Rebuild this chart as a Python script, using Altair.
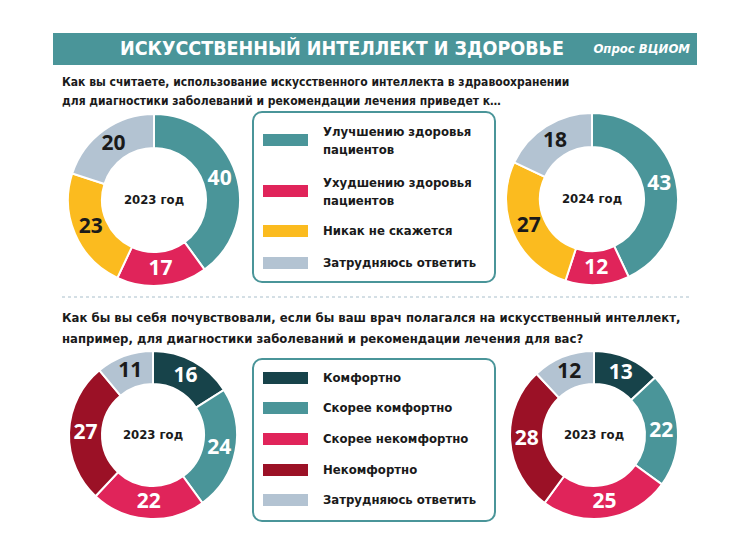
import altair as alt
import pandas as pd

# ---------------- data ----------------
title = "ИСКУССТВЕННЫЙ ИНТЕЛЛЕКТ И ЗДОРОВЬЕ"
source = "Опрос ВЦИОМ"
q1_lines = ["Как вы считаете, использование искусственного интеллекта в здравоохранении",
            "для диагностики заболеваний и рекомендации лечения приведет к…"]
q2_lines = ["Как бы вы себя почувствовали, если бы ваш врач полагался на искусственный интеллект,",
            "например, для диагностики заболеваний и рекомендации лечения для вас?"]

cats1 = ["Улучшению здоровья пациентов", "Ухудшению здоровья пациентов",
         "Никак не скажется", "Затрудняюсь ответить"]
legend1_labels = ["Улучшению здоровья\nпациентов", "Ухудшению здоровья\nпациентов",
                  "Никак не скажется", "Затрудняюсь ответить"]
vals_2023_a = [40, 17, 23, 20]
vals_2024_a = [43, 12, 27, 18]

cats2 = ["Комфортно", "Скорее комфортно", "Скорее некомфортно", "Некомфортно", "Затрудняюсь ответить"]
vals_2023_b = [16, 24, 22, 27, 11]
vals_2024_b = [13, 22, 25, 28, 12]

year_labels = ["2023 год", "2024 год", "2023 год", "2023 год"]

# ---------------- styles ----------------
FONT = "DejaVu Sans Condensed, sans-serif"
NUMFONT = "Open Sans, Liberation Sans, sans-serif"
TEAL = "#4a9599"
DARK = "#1a1a1a"
all_cats = ["Улучшению здоровья пациентов", "Ухудшению здоровья пациентов", "Никак не скажется",
            "Затрудняюсь ответить", "Комфортно", "Скорее комфортно", "Скорее некомфортно", "Некомфортно"]
all_colors = [TEAL, "#e0245a", "#fbbb1f", "#b3c3d2", "#17434a", TEAL, "#e0245a", "#9b1126"]
color_scale = alt.Scale(domain=all_cats, range=all_colors)
dark_label_cats = ["Никак не скажется", "Затрудняюсь ответить"]


def df_of(cats, vals):
    return pd.DataFrame({"cat": cats, "value": vals, "idx": list(range(len(cats)))})


def text_layer(txt, x, y, size=14, color=DARK, align="left", weight="bold", style="normal", font=FONT,
               line_height=None):
    kw = {}
    if line_height:
        kw["lineHeight"] = line_height
    return alt.Chart(pd.DataFrame({"t": [txt]})).mark_text(
        font=font, fontSize=size, fontWeight=weight, fontStyle=style, color=color,
        align=align, baseline="middle", lineBreak="\n", **kw
    ).encode(text="t:N", x=alt.value(x), y=alt.value(y))


def rect_layer(x, x2, y, y2, fill, stroke=None, sw=0, corner=0):
    kw = {}
    if stroke:
        kw["stroke"] = stroke
        kw["strokeWidth"] = sw
    return alt.Chart(pd.DataFrame({"a": [0]})).mark_rect(
        fill=fill, cornerRadius=corner, **kw
    ).encode(x=alt.value(x), x2=alt.value(x2), y=alt.value(y), y2=alt.value(y2))


def donut(cats, vals, cx, cy, r_in, r_out, center_label):
    d = df_of(cats, vals)
    theta = alt.Theta("value:Q", stack=True, scale=alt.Scale(domain=[0, 100]))
    arc = alt.Chart(d).mark_arc(innerRadius=r_in, outerRadius=r_out, stroke="white", strokeWidth=2).encode(
        theta=theta,
        color=alt.Color("cat:N", scale=color_scale, legend=None),
        order=alt.Order("idx:Q"),
        x=alt.value(cx), y=alt.value(cy),
    )
    lab = alt.Chart(d).mark_text(radius=(r_in + r_out) / 2, font=NUMFONT, fontSize=21, fontWeight="bold",
                                 baseline="middle", align="center").encode(
        theta=theta,
        order=alt.Order("idx:Q"),
        text="value:Q",
        color=alt.condition(alt.FieldOneOfPredicate(field="cat", oneOf=dark_label_cats),
                            alt.value(DARK), alt.value("white")),
        x=alt.value(cx), y=alt.value(cy),
    )
    ctr = text_layer(center_label, cx, cy, size=13, align="center")
    return [arc, lab, ctr]


layers = []
# banner
layers.append(rect_layer(45, 689, 25, 57, TEAL))
layers.append(text_layer(title, 334, 41, size=19.5, color="white", align="center"))
layers.append(text_layer(source, 682, 41, size=13, color="white", align="right", style="italic"))

# question 1
layers.append(text_layer(q1_lines[0], 54, 74, size=12))
layers.append(text_layer(q1_lines[1], 54, 93, size=12))

# legend 1
layers.append(rect_layer(245, 487, 104, 274, "white", stroke=TEAL, sw=2, corner=9))
leg1_y = [132, 183, 223, 255]
for cat, lab, yy in zip(cats1, legend1_labels, leg1_y):
    col = all_colors[all_cats.index(cat)]
    layers.append(rect_layer(255, 300, yy - 6, yy + 6, col))
    layers.append(text_layer(lab, 315, yy - (8 if "\n" in lab else 0), size=13, line_height=18))

# separator
layers.append(alt.Chart(pd.DataFrame({"a": [0]})).mark_rule(color="#a9c0cc", strokeDash=[3, 3], strokeWidth=1.2)
              .encode(x=alt.value(54), x2=alt.value(682), y=alt.value(289)))

# question 2
layers.append(text_layer(q2_lines[0], 54, 310, size=13))
layers.append(text_layer(q2_lines[1], 54, 331, size=13))

# legend 2
layers.append(rect_layer(245, 487, 351, 513, "white", stroke=TEAL, sw=2, corner=9))
leg2_y = [370, 400, 431, 462, 492]
for cat, yy in zip(cats2, leg2_y):
    col = all_colors[all_cats.index(cat, 4 if cat != "Затрудняюсь ответить" else 0)]
    layers.append(rect_layer(255, 300, yy - 6, yy + 6, col))
    layers.append(text_layer(cat, 315, yy, size=13))

# donuts
layers += donut(cats1, vals_2023_a, 146, 192, 52, 86, year_labels[0])
layers += donut(cats1, vals_2024_a, 584, 191, 52, 86, year_labels[1])
layers += donut(cats2, vals_2023_b, 145, 427, 51, 84, year_labels[2])
layers += donut(cats2, vals_2024_b, 586, 427, 51, 84, year_labels[3])

chart = alt.layer(*layers).properties(
    width=730, height=543, padding=0, background="white",
    autosize=alt.AutoSizeParams(type="none"),
).configure_view(stroke=None)

chart.save("out.html", embed_options={"renderer": "svg", "actions": False})
